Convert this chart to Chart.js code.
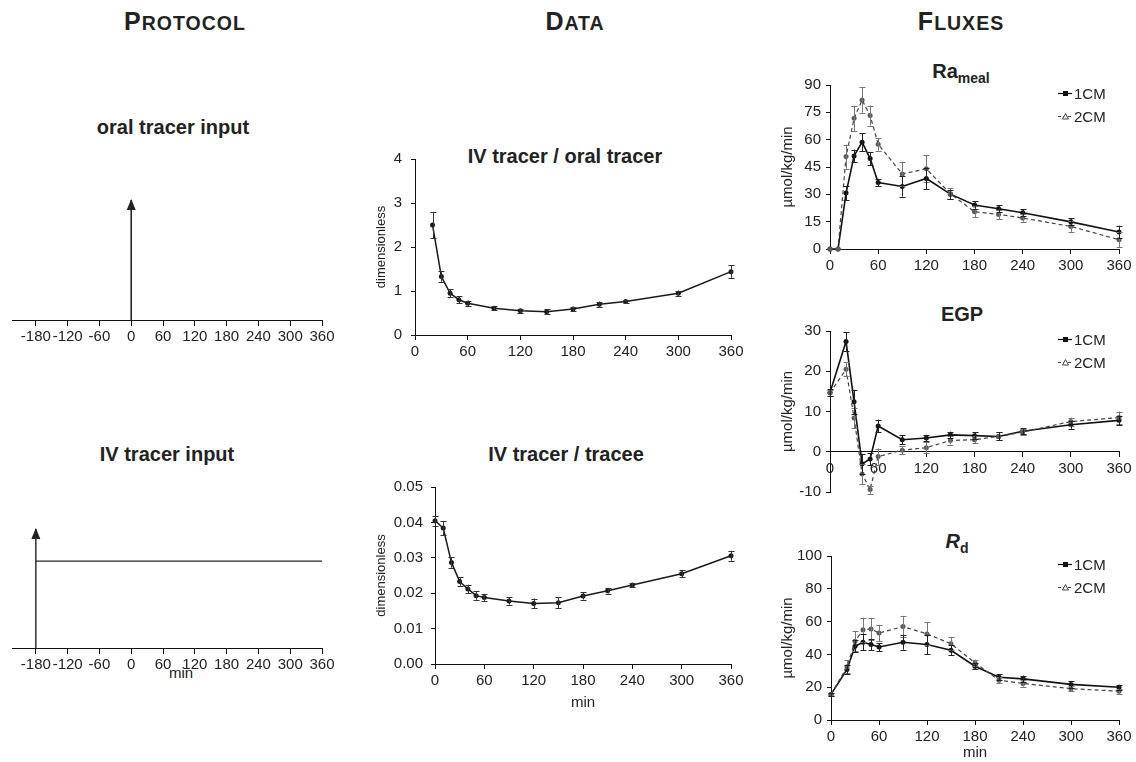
<!DOCTYPE html>
<html><head><meta charset="utf-8">
<script src="https://cdn.jsdelivr.net/npm/chart.js@4/dist/chart.umd.min.js"></script>
<style>
html,body{margin:0;padding:0;background:#fff}
body{width:1136px;height:762px;position:relative;overflow:hidden;font-family:"Liberation Sans",Arial,sans-serif;color:#222}
canvas{position:absolute}
.hdr{position:absolute;top:6px;width:240px;text-align:center;font-weight:bold;line-height:30px;letter-spacing:1px;white-space:nowrap}
.hdr .b{font-size:25px}.hdr .s{font-size:19.5px}
.ttl{position:absolute;width:300px;text-align:center;font-weight:bold;font-size:20px;line-height:20px;white-space:nowrap}
.ttl sub{font-size:14px;vertical-align:-5px;line-height:0}
.lbl{position:absolute;width:60px;text-align:center;font-size:15px;line-height:18px}
</style></head><body>

<div class="hdr" style="left:65px"><span class="b">P</span><span class="s">ROTOCOL</span></div>
<div class="hdr" style="left:455px"><span class="b">D</span><span class="s">ATA</span></div>
<div class="hdr" style="left:841px"><span class="b">F</span><span class="s">LUXES</span></div>

<div class="ttl" style="left:23px;top:117px">oral tracer input</div>
<div class="ttl" style="left:17px;top:444px">IV tracer input</div>
<div class="ttl" style="left:415px;top:146px">IV tracer / oral tracer</div>
<div class="ttl" style="left:416px;top:444px">IV tracer / tracee</div>
<div class="ttl" style="left:811px;top:61px">Ra<sub>meal</sub></div>
<div class="ttl" style="left:812px;top:304px">EGP</div>
<div class="ttl" style="left:807px;top:531px"><i>R</i><sub>d</sub></div>
<div class="lbl" style="left:151px;top:664px">min</div>

<canvas id="protoTop" width="340" height="180" style="left:0;top:180px"></canvas>
<canvas id="protoBot" width="340" height="179" style="left:0;top:509px"></canvas>
<canvas id="dataTop" width="380" height="226" style="left:370px;top:139px"></canvas>
<canvas id="dataBot" width="380" height="247" style="left:370px;top:467px"></canvas>
<canvas id="fluxRa" width="361" height="212" style="left:775px;top:65px"></canvas>
<canvas id="fluxEgp" width="361" height="195" style="left:775px;top:311px"></canvas>
<canvas id="fluxRd" width="361" height="226" style="left:775px;top:536px"></canvas>

<script>
// ---------- DATA ----------
const protoTicks = [-180, -120, -60, 0, 60, 120, 180, 240, 300, 360];
const oralInputX = [0, 0];
const oralInputY = [0, 1];
const ivArrowX = [-180, -180];
const ivArrowY = [0, 1];
const ivRateX = [-180, 360];
const ivRateY = [0.73, 0.73];

const timeTicks = [0, 60, 120, 180, 240, 300, 360];

const oralRatioTime = [20, 30, 40, 50, 60, 90, 120, 150, 180, 210, 240, 300, 360];
const oralRatio = [2.50, 1.33, 0.95, 0.80, 0.72, 0.61, 0.55, 0.53, 0.59, 0.70, 0.76, 0.95, 1.44];
const oralRatioErr = [0.30, 0.12, 0.09, 0.08, 0.06, 0.05, 0.05, 0.05, 0.04, 0.06, 0.04, 0.06, 0.14];
const oralRatioTicks = [0, 1, 2, 3, 4];

const traceeTime = [0, 10, 20, 30, 40, 50, 60, 90, 120, 150, 180, 210, 240, 300, 360];
const traceeRatio = [0.0405, 0.0384, 0.0287, 0.0233, 0.0212, 0.0193, 0.0188, 0.0178, 0.0171, 0.0173, 0.0192, 0.0207, 0.0223, 0.0255, 0.0306];
const traceeRatioErr = [0.0014, 0.0020, 0.0015, 0.0012, 0.0012, 0.0012, 0.0010, 0.0010, 0.0014, 0.0015, 0.0010, 0.0008, 0.0005, 0.0010, 0.0014];
const traceeTicks = [0, 0.01, 0.02, 0.03, 0.04, 0.05];

const raTime = [0, 10, 20, 30, 40, 50, 60, 90, 120, 150, 180, 210, 240, 300, 360];
const ra1CM = [0, 0, 30.7, 51.1, 58.6, 49.6, 36.5, 34.3, 38.7, 30.1, 24.1, 22.1, 19.9, 14.9, 9.3];
const ra1CMErr = [0, 0, 4, 3.5, 5, 3.5, 2, 5.5, 6, 2.5, 2, 2, 2, 2, 3.5];
const ra2CM = [0, 0, 50.7, 71.7, 81.8, 73.2, 57.5, 41.2, 44.0, 30.3, 20.4, 19.0, 17.0, 12.4, 5.1];
const ra2CMErr = [0, 0, 6.6, 7, 7, 5.5, 3.5, 6.7, 7.4, 3, 3, 2.5, 2, 3, 4];
const raTicks = [0, 15, 30, 45, 60, 75, 90];

const egpTime = [0, 20, 30, 40, 50, 60, 90, 120, 150, 180, 210, 240, 300, 360];
const egp1CM = [14.7, 27.4, 12.4, -3.0, -1.8, 6.4, 3.0, 3.4, 4.2, 4.0, 3.8, 5.1, 6.7, 7.8];
const egp1CMErr = [0.8, 2.3, 3, 2.5, 1.5, 1.6, 1.1, 0.8, 0.8, 0.8, 1, 0.8, 1, 1.2];
const egp2CM = [14.6, 20.5, 8.4, -5.5, -9.4, -1.2, 0.4, 1.0, 2.8, 3.0, 3.8, 4.9, 7.5, 8.5];
const egp2CMErr = [0.8, 1.8, 2.5, 2.5, 1, 2, 1, 1.3, 1, 0.8, 1, 0.8, 1, 1.5];
const egpTicks = [-10, 0, 10, 20, 30];

const rdTime = [0, 20, 30, 40, 50, 60, 90, 120, 150, 180, 210, 240, 300, 360];
const rd1CM = [15.6, 30.8, 45.0, 47.4, 46.0, 44.5, 47.4, 46.0, 42.5, 32.8, 26.1, 25.1, 21.7, 20.0];
const rd1CMErr = [1, 3, 3.5, 5, 3.5, 2.5, 4.5, 6, 3, 2, 2, 2, 2, 1.5];
const rd2CM = [15.6, 32.4, 48.0, 55.0, 55.5, 53.0, 57.0, 52.5, 46.5, 34.8, 24.3, 22.3, 19.1, 17.6];
const rd2CMErr = [1, 4, 6, 7.5, 6.5, 5, 6.5, 7, 4, 2, 2, 2, 1.5, 1.5];
const rdTicks = [0, 20, 40, 60, 80, 100];

const seriesNames = ['1CM', '2CM'];

// ---------- HELPERS ----------
const FONT = '"Liberation Sans", Arial, sans-serif';
const INK = '#222';
const C1 = '#111', C2 = '#444', C2pt = '#5a5a5a', C2err = '#777';

const pts = (xs, ys) => xs.map((x, i) => ({x: x, y: ys[i]}));

const errorBarPlugin = {
  id: 'errorBars',
  afterDatasetsDraw(chart) {
    const ctx = chart.ctx, ys = chart.scales.y;
    chart.data.datasets.forEach((ds, i) => {
      if (!ds.errors) return;
      const meta = chart.getDatasetMeta(i);
      ctx.save();
      ctx.strokeStyle = ds.errorColor || '#222';
      ctx.lineWidth = 1;
      meta.data.forEach((el, j) => {
        const e = ds.errors[j];
        if (!e) return;
        const v = ds.data[j].y;
        const x = Math.round(el.x) + 0.5;
        const y1 = ys.getPixelForValue(v + e), y2 = ys.getPixelForValue(v - e);
        ctx.beginPath();
        ctx.moveTo(x, y1); ctx.lineTo(x, y2);
        ctx.moveTo(x - 3, Math.round(y1) + 0.5); ctx.lineTo(x + 3, Math.round(y1) + 0.5);
        ctx.moveTo(x - 3, Math.round(y2) + 0.5); ctx.lineTo(x + 3, Math.round(y2) + 0.5);
        ctx.stroke();
      });
      ctx.restore();
    });
  }
};

function arrowPlugin(indices) {
  return {
    id: 'arrows',
    afterDatasetsDraw(chart) {
      const ctx = chart.ctx;
      indices.forEach(i => {
        const meta = chart.getDatasetMeta(i);
        const el = meta.data[meta.data.length - 1];
        ctx.save();
        ctx.fillStyle = '#222';
        ctx.beginPath();
        ctx.moveTo(el.x, el.y - 1);
        ctx.lineTo(el.x - 4.5, el.y + 10);
        ctx.lineTo(el.x + 4.5, el.y + 10);
        ctx.closePath();
        ctx.fill();
        ctx.restore();
      });
    }
  };
}

function legendPlugin(items) {
  return {
    id: 'lineLegend',
    afterDraw(chart) {
      const ctx = chart.ctx, a = chart.chartArea;
      ctx.save();
      items.forEach((it, k) => {
        const y = Math.round(a.top + 8 + k * 23) + 0.5;
        const x0 = a.right - 61;
        ctx.strokeStyle = it.color; ctx.lineWidth = 1.2;
        ctx.setLineDash(it.dash);
        ctx.beginPath(); ctx.moveTo(x0, y); ctx.lineTo(x0 + 14, y); ctx.stroke();
        ctx.setLineDash([]);
        if (it.marker === 'square') {
          ctx.fillStyle = it.color;
          ctx.fillRect(x0 + 5, y - 2.5, 5, 5);
        } else {
          ctx.fillStyle = '#fff'; ctx.strokeStyle = it.color; ctx.lineWidth = 1;
          ctx.beginPath(); ctx.moveTo(x0 + 7.5, y - 3); ctx.lineTo(x0 + 10.5, y + 2.5); ctx.lineTo(x0 + 4.5, y + 2.5); ctx.closePath();
          ctx.fill(); ctx.stroke();
        }
        ctx.fillStyle = INK;
        ctx.font = '15px ' + FONT;
        ctx.textBaseline = 'middle';
        ctx.fillText(it.label, x0 + 16, y + 1);
      });
      ctx.restore();
    }
  };
}

function xScale(ticks, min, max, height, extra) {
  return Object.assign({
    type: 'linear', min: min, max: max,
    afterBuildTicks: s => { s.ticks = ticks.map(v => ({value: v})); },
    afterFit: s => { s.height = height; },
    ticks: {autoSkip: false, maxRotation: 0, minRotation: 0, color: INK, padding: 3, font: {family: FONT, size: 15}},
    grid: {drawOnChartArea: false, drawTicks: true, tickLength: 5, color: '#111'},
    border: {display: true, color: '#111', width: 1}
  }, extra || {});
}

function yScale(ticks, min, max, width, pad, title, titleSize, fmt) {
  return {
    type: 'linear', min: min, max: max,
    afterBuildTicks: s => { s.ticks = ticks.map(v => ({value: v})); },
    afterFit: s => { s.width = width; },
    ticks: {color: INK, padding: pad, font: {family: FONT, size: 15}, callback: fmt || (v => String(v))},
    grid: {drawOnChartArea: false, drawTicks: true, tickLength: 4, color: '#111'},
    border: {display: true, color: '#111', width: 1},
    title: {display: true, text: title, color: INK, padding: {top: 4, bottom: 0}, font: {family: FONT, size: titleSize}}
  };
}

function baseOptions(padding, scales) {
  return {
    responsive: false, animation: false, devicePixelRatio: 1,
    layout: {padding: padding},
    plugins: {legend: {display: false}, tooltip: {enabled: false}, title: {display: false}},
    scales: scales
  };
}

function lineSet(label, data, color, opts) {
  return Object.assign({
    label: label, data: data, borderColor: color, backgroundColor: color,
    borderWidth: 1.5, pointRadius: 2.5, pointBorderWidth: 0, pointBackgroundColor: color,
    tension: 0, clip: false, fill: false
  }, opts || {});
}

// ---------- PROTOCOL ----------
const protoX = (h) => xScale(protoTicks, -225, 360, h, {
  ticks: {autoSkip: false, maxRotation: 0, minRotation: 0, color: INK, padding: 2, font: {family: FONT, size: 15}},
  grid: {drawOnChartArea: false, drawTicks: true, tickLength: 6, color: '#111'}
});
const protoY = {display: false, min: 0, max: 1};

new Chart(document.getElementById('protoTop'), {
  type: 'line',
  data: {datasets: [lineSet('oral', pts(oralInputX, oralInputY), '#222', {pointRadius: 0, borderWidth: 1.6})]},
  options: baseOptions({left: 12, right: 18, top: 20, bottom: 0}, {x: protoX(40), y: protoY}),
  plugins: [arrowPlugin([0])]
});

new Chart(document.getElementById('protoBot'), {
  type: 'line',
  data: {datasets: [
    lineSet('ivArrow', pts(ivArrowX, ivArrowY), '#222', {pointRadius: 0, borderWidth: 1.4}),
    lineSet('ivRate', pts(ivRateX, ivRateY), '#222', {pointRadius: 0, borderWidth: 1.4})
  ]},
  options: baseOptions({left: 12, right: 18, top: 20, bottom: 0}, {x: protoX(40), y: protoY}),
  plugins: [arrowPlugin([0])]
});

// ---------- DATA ----------
new Chart(document.getElementById('dataTop'), {
  type: 'line',
  data: {datasets: [lineSet('ratio', pts(oralRatioTime, oralRatio), '#1a1a1a', {errors: oralRatioErr, errorColor: '#333'})]},
  options: baseOptions({left: 0, right: 19, top: 20, bottom: 0}, {
    x: xScale(timeTicks, 0, 360, 30),
    y: yScale(oralRatioTicks, 0, 4, 45, 9, 'dimensionless', 13)
  }),
  plugins: [errorBarPlugin]
});

new Chart(document.getElementById('dataBot'), {
  type: 'line',
  data: {datasets: [lineSet('ratio', pts(traceeTime, traceeRatio), '#1a1a1a', {errors: traceeRatioErr, errorColor: '#333'})]},
  options: baseOptions({left: 0, right: 19, top: 20, bottom: 0}, {
    x: xScale(timeTicks, 0, 360, 50, {title: {display: true, text: 'min', color: INK, padding: {top: 0, bottom: 2}, font: {family: FONT, size: 15}}}),
    y: yScale(traceeTicks, 0, 0.05, 65, 8, 'dimensionless', 13, v => v.toFixed(2))
  }),
  plugins: [errorBarPlugin]
});

// ---------- FLUXES ----------
const legendItems = [
  {label: seriesNames[0], color: C1, dash: [], marker: 'square'},
  {label: seriesNames[1], color: C2, dash: [3, 2], marker: 'triangle'}
];

function fluxSets(time, a, aErr, b, bErr) {
  return [
    lineSet(seriesNames[1], pts(time, b), C2, {borderWidth: 1.2, borderDash: [4, 3], pointBackgroundColor: C2pt, errors: bErr, errorColor: C2err}),
    lineSet(seriesNames[0], pts(time, a), C1, {borderWidth: 1.6, errors: aErr, errorColor: '#222'})
  ];
}

new Chart(document.getElementById('fluxRa'), {
  type: 'line',
  data: {datasets: fluxSets(raTime, ra1CM, ra1CMErr, ra2CM, ra2CMErr)},
  options: baseOptions({left: 0, right: 17, top: 20, bottom: 0}, {
    x: xScale(timeTicks, 0, 360, 28),
    y: yScale(raTicks, 0, 90, 55, 5, 'µmol/kg/min', 15)
  }),
  plugins: [errorBarPlugin, legendPlugin(legendItems)]
});

new Chart(document.getElementById('fluxEgp'), {
  type: 'line',
  data: {datasets: fluxSets(egpTime, egp1CM, egp1CMErr, egp2CM, egp2CMErr)},
  options: baseOptions({left: 0, right: 17, top: 20, bottom: 10}, {
    x: xScale(timeTicks, 0, 360, 1, {position: {y: 0}}),
    y: yScale(egpTicks, -10, 30, 55, 5, 'µmol/kg/min', 15)
  }),
  plugins: [errorBarPlugin, legendPlugin(legendItems)]
});

new Chart(document.getElementById('fluxRd'), {
  type: 'line',
  data: {datasets: fluxSets(rdTime, rd1CM, rd1CMErr, rd2CM, rd2CMErr)},
  options: baseOptions({left: 0, right: 17, top: 20, bottom: 0}, {
    x: xScale(timeTicks, 0, 360, 42, {title: {display: true, text: 'min', color: INK, padding: {top: 0, bottom: 0}, font: {family: FONT, size: 15}}}),
    y: yScale(rdTicks, 0, 100, 56, 5, 'µmol/kg/min', 15)
  }),
  plugins: [errorBarPlugin, legendPlugin(legendItems)]
});
</script>
</body></html>
